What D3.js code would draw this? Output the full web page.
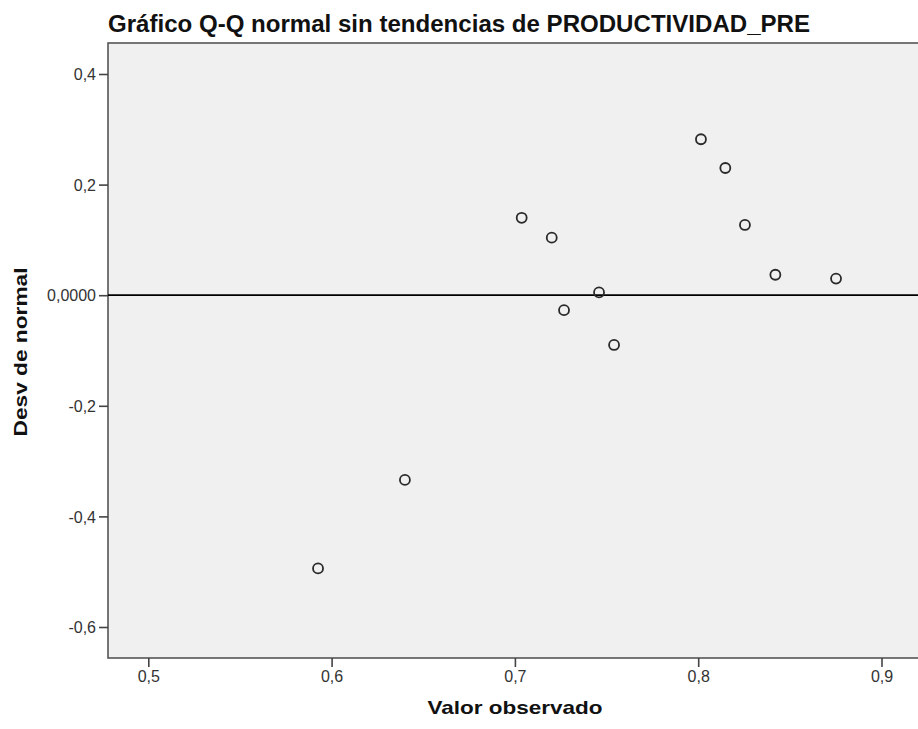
<!DOCTYPE html>
<html><head><meta charset="utf-8">
<script src="https://cdn.jsdelivr.net/npm/d3@7"></script>
<style>
body{margin:0;background:#fff;}
svg{display:block;}
text{font-family:"Liberation Sans",Arial,sans-serif;}
</style></head>
<body>
<svg id="chart" width="918" height="729"></svg>
<script>
const titleText = "Gráfico Q-Q normal sin tendencias de PRODUCTIVIDAD_PRE";
const xLabel = "Valor observado";
const yLabel = "Desv de normal";
const observed = [0.5926, 0.6400, 0.7037, 0.7201, 0.7268, 0.7459, 0.7541, 0.8015, 0.8148, 0.8255, 0.8421, 0.8752];
const deviation = [-0.494, -0.334, 0.140, 0.104, -0.027, 0.005, -0.090, 0.282, 0.230, 0.127, 0.037, 0.030];
const xTicks = [0.5, 0.6, 0.7, 0.8, 0.9];
const yTicks = [0.4, 0.2, 0, -0.2, -0.4, -0.6];

const svg = d3.select("#chart");
const frame = {left:108, top:43, right:930, bottom:658};

const x = d3.scaleLinear().domain([0.5, 0.9]).range([148.3, 881.5]);
const y = d3.scaleLinear().domain([0.4, -0.6]).range([74, 627]);

const fmt = d => d === 0 ? "0,0000" : d3.format(".1f")(d).replace(".", ",").replace("\u2212", "-");

// plot background
svg.append("rect")
  .attr("x", frame.left).attr("y", frame.top)
  .attr("width", frame.right - frame.left).attr("height", frame.bottom - frame.top)
  .attr("fill", "#f0f0f0").attr("stroke", "#555").attr("stroke-width", 1.6);

// zero reference line
svg.append("line")
  .attr("x1", frame.left).attr("x2", frame.right)
  .attr("y1", y(0)).attr("y2", y(0))
  .attr("stroke", "#000").attr("stroke-width", 1.8);

// axes
const yAxis = svg.append("g").attr("transform", `translate(${frame.left},0)`)
  .call(d3.axisLeft(y).tickValues(yTicks).tickFormat(fmt).tickSize(9).tickSizeOuter(0));
const xAxis = svg.append("g").attr("transform", `translate(0,${frame.bottom})`)
  .call(d3.axisBottom(x).tickValues(xTicks).tickFormat(fmt).tickSize(9).tickSizeOuter(0));

[yAxis, xAxis].forEach(g => {
  g.select(".domain").remove();
  g.selectAll(".tick line").attr("stroke", "#444").attr("stroke-width", 1.6);
  g.selectAll(".tick text").attr("fill", "#333").style("font-size", "16px");
});
yAxis.selectAll(".tick text").attr("x", -12).attr("dy", "0.35em");
xAxis.selectAll(".tick text").attr("y", 13);

// points
svg.append("g").selectAll("circle")
  .data(observed.map((v, i) => [v, deviation[i]]))
  .join("circle")
  .attr("cx", d => x(d[0])).attr("cy", d => y(d[1]))
  .attr("r", 5)
  .attr("fill", "none").attr("stroke", "#2a2a2a").attr("stroke-width", 1.8);

// title
svg.append("text").attr("x", 108).attr("y", 32)
  .style("font-size", "23px").style("font-weight", "bold").attr("fill", "#111")
  .attr("textLength", 702).attr("lengthAdjust", "spacingAndGlyphs")
  .text(titleText);

// axis titles
svg.append("text").attr("x", 515).attr("y", 714).attr("text-anchor", "middle")
  .style("font-size", "19px").style("font-weight", "bold").attr("fill", "#111")
  .attr("textLength", 175).attr("lengthAdjust", "spacingAndGlyphs")
  .text(xLabel);
svg.append("text").attr("transform", "translate(27,352) rotate(-90)").attr("text-anchor", "middle")
  .style("font-size", "19px").style("font-weight", "bold").attr("fill", "#111")
  .attr("textLength", 169).attr("lengthAdjust", "spacingAndGlyphs")
  .text(yLabel);
</script>
</body></html>
